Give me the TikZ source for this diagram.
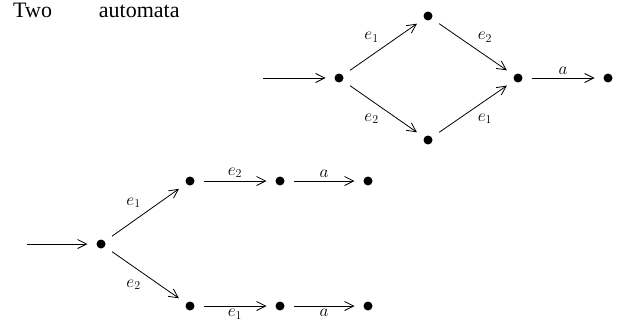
\documentclass[tikz,border=0pt]{standalone}
\usepackage{amsmath}
\usepackage{fontspec}
\setmainfont{Liberation Serif}
\usepackage{tikz}
\usetikzlibrary{arrows.meta, positioning, calc}

\begin{document}
\begin{tikzpicture}[
    x=1pt, y=-1pt,
    >={Straight Barb[length=9pt,width=9pt]},
    state/.style={circle, fill, minimum size=9pt, inner sep=0pt, outer sep=9pt},
    edge/.style={->, line width=0.8pt},
    lbl/.style={font=\fontsize{17.28}{20}\selectfont, inner sep=3pt}
]
\useasboundingbox (0,0) rectangle (621,324);

\node[anchor=base west, font=\fontsize{22}{26}\selectfont, inner sep=0pt] (title) at (13,17) {Two\hspace{47pt}automata};

% first automaton
\coordinate (start) at (263,78);
\node[state] (init) at (339,78) {};
\node[state] (up) at (428,16) {};
\node[state] (down) at (428,140) {};
\node[state] (merge) at (518,78) {};
\node[state] (final) at (608,78) {};

\draw[edge] (start) -- (init);
\draw[edge] (init) -- node[lbl, above left=2pt] {$e_1$} (up);
\draw[edge] (init) -- node[lbl, below left=2pt] {$e_2$} (down);
\draw[edge] (up) -- node[lbl, above right=2pt] {$e_2$} (merge);
\draw[edge] (down) -- node[lbl, below right=2pt] {$e_1$} (merge);
\draw[edge] (merge) -- node[lbl, above] {$a$} (final);

% second automaton
\coordinate (tstart) at (27,244);
\node[state] (tinit) at (101,244) {};
\node[state] (tup) at (190,181) {};
\node[state] (tupmid) at (280,181) {};
\node[state] (tupend) at (368,181) {};
\node[state] (tdown) at (190,306) {};
\node[state] (tdownmid) at (280,306) {};
\node[state] (tdownend) at (368,306) {};

\draw[edge] (tstart) -- (tinit);
\draw[edge] (tinit) -- node[lbl, above left=2pt] {$e_1$} (tup);
\draw[edge] (tinit) -- node[lbl, below left=2pt] {$e_2$} (tdown);
\draw[edge] (tup) -- node[lbl, above] {$e_2$} (tupmid);
\draw[edge] (tupmid) -- node[lbl, above] {$a$} (tupend);
\draw[edge] (tdown) -- node[lbl, below] {$e_1$} (tdownmid);
\draw[edge] (tdownmid) -- node[lbl, below] {$a$} (tdownend);
\end{tikzpicture}
\end{document}
